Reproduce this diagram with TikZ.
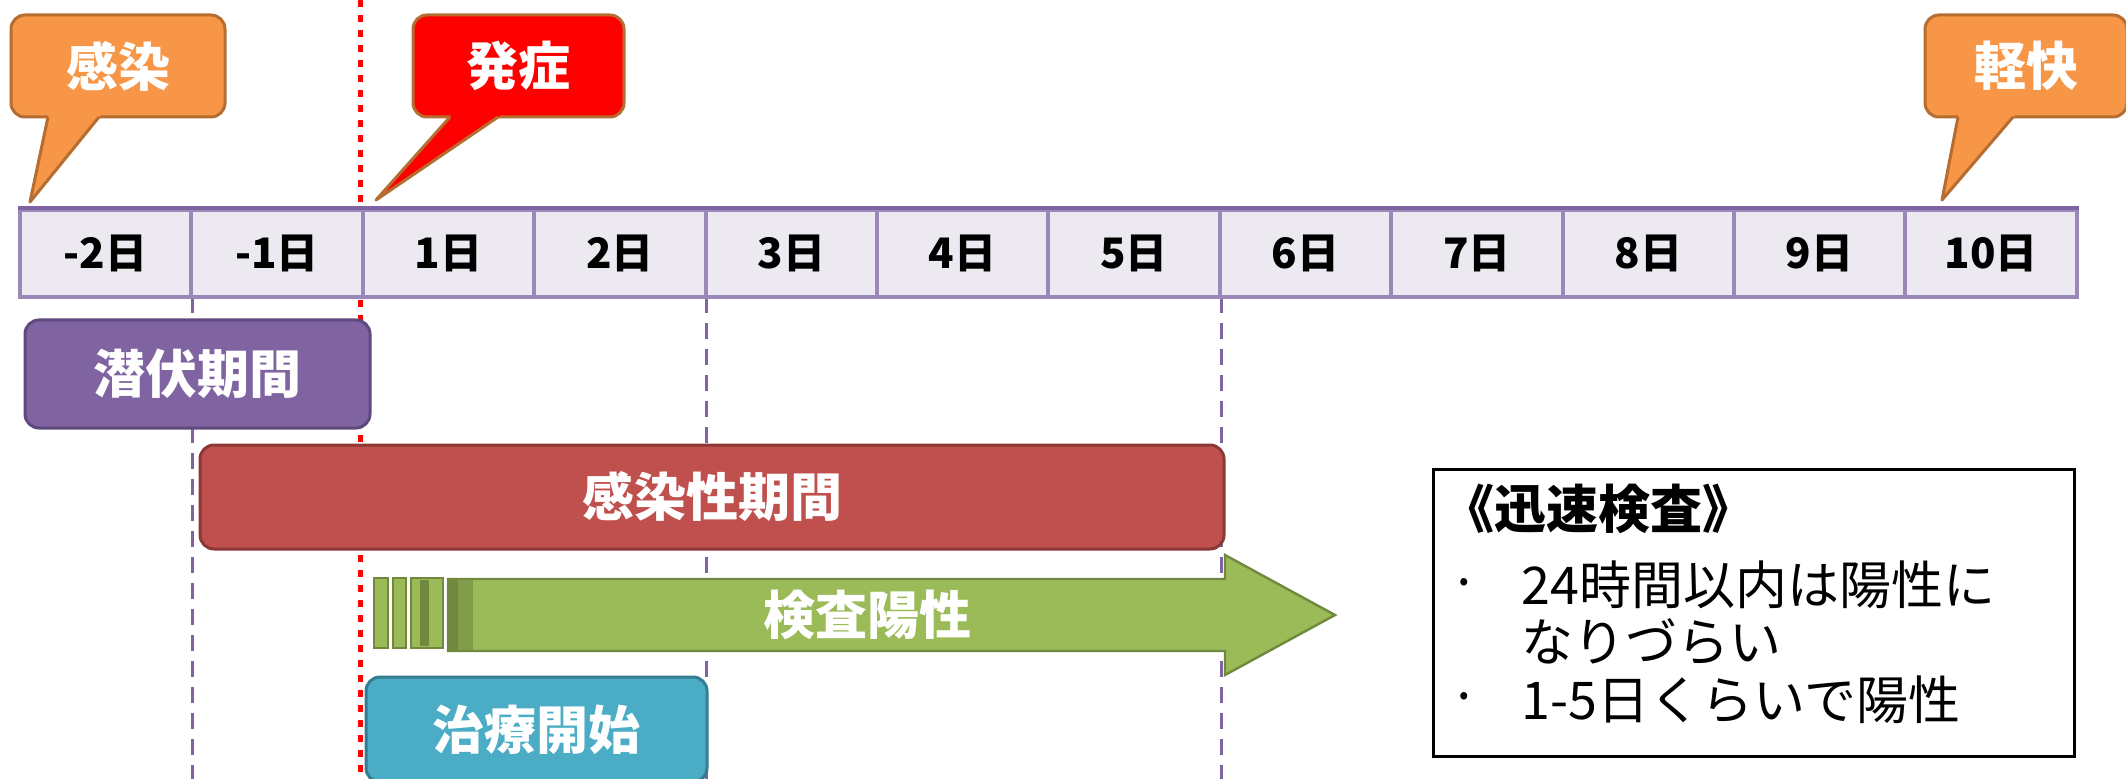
\documentclass[tikz,border=0pt]{standalone}
\usepackage{fontspec}
\setmainfont{Noto Sans CJK JP}
\usetikzlibrary{calc}
\definecolor{orangeF}{HTML}{F79646}
\definecolor{orangeD}{HTML}{B66D31}
\definecolor{redF}{HTML}{FF0000}
\definecolor{purpF}{HTML}{8064A2}
\definecolor{purpD}{HTML}{5E4A7C}
\definecolor{brickF}{HTML}{C0504D}
\definecolor{brickD}{HTML}{8C3836}
\definecolor{greenF}{HTML}{9BBB59}
\definecolor{greenD}{HTML}{71893F}
\definecolor{tealF}{HTML}{4BACC6}
\definecolor{tealD}{HTML}{357D91}
\definecolor{cellF}{HTML}{ECEAF0}
\definecolor{cellD}{HTML}{9A88B8}
\definecolor{barD}{HTML}{8064A2}
\begin{document}
\begin{tikzpicture}[x=0.25pt,y=-0.25pt,
  box/.style={rectangle, rounded corners=3.5pt, line width=0.75pt, inner sep=0pt,
    text=white, font=\fontsize{13pt}{15pt}\selectfont\bfseries},
  callout/.style={box, minimum height=25.5pt},
  cell/.style={rectangle, inner sep=0pt, minimum width=42.85pt, minimum height=21.75pt,
    fill=cellF, draw=cellD, line width=1pt, font=\fontsize{10.5pt}{12pt}\selectfont\bfseries},
  redline/.style={redF, line width=1.25pt, dash pattern=on 1.75pt off 2pt},
  guide/.style={purpF, line width=0.75pt, dash pattern=on 4pt off 2.5pt},
  tailline/.style={orangeD, line width=0.75pt, line join=round},
  stripe/.style={fill=greenF, draw=greenD, line width=0.6pt},
  bodytext/.style={anchor=west, inner sep=0pt, font=\fontsize{13pt}{15pt}\selectfont},
  dot/.style={inner sep=0pt, font=\fontsize{7pt}{8pt}\selectfont}
]
\useasboundingbox (0,0) rectangle (2126,779);
\clip (0,0) rectangle (2126,779);

% guide lines
\coordinate (r0) at (360,0); \coordinate (r1) at (360,779);
\draw[redline] (r0) -- (r1);
\foreach \gx [count=\k] in {192,706,1221}{
  \coordinate (g\k a) at (\gx,297); \coordinate (g\k b) at (\gx,779);
  \draw[guide] (g\k a) -- (g\k b);
}

% timeline bar
\foreach \lab [count=\i from 0] in {-2日,-1日,1日,2日,3日,4日,5日,6日,7日,8日,9日,10日}{
  \node[cell] (c\i) at ({20+171.4*\i+85.7},253.5) {\lab};
}
\draw[barD, line width=0.9pt] (c0.north west) -- (c11.north east);

% callouts
\node[callout, fill=orangeF, draw=orangeD, minimum width=53.5pt] (kansen) at (118,66) {感染};
\coordinate (kT) at (30,202); \coordinate (k1) at (48,117); \coordinate (k2) at (99,117);
\fill[orangeF] ($(kT)!1.08!(k1)$) -- ($(kT)!1.08!(k2)$) -- (kT) -- cycle;
\draw[tailline] (k1) -- (kT) -- (k2);

\node[callout, fill=redF, draw=orangeD, minimum width=52.75pt] (hassho) at (518.5,66) {発症};
\coordinate (hT) at (376,200); \coordinate (h1) at (450,117); \coordinate (h2) at (498,117);
\fill[redF] ($(hT)!1.08!(h1)$) -- ($(hT)!1.08!(h2)$) -- (hT) -- cycle;
\draw[tailline] (h1) -- (hT) -- (h2);

\node[callout, fill=orangeF, draw=orangeD, minimum width=50.5pt] (keikai) at (2026,66) {軽快};
\coordinate (eT) at (1942,200); \coordinate (e1) at (1958,117); \coordinate (e2) at (2013,117);
\fill[orangeF] ($(eT)!1.08!(e1)$) -- ($(eT)!1.08!(e2)$) -- (eT) -- cycle;
\draw[tailline] (e1) -- (eT) -- (e2);

% period boxes
\node[box, fill=purpF, draw=purpD, minimum width=86.25pt, minimum height=27pt] (senpuku) at (197.5,374) {潜伏期間};
\node[box, fill=brickF, draw=brickD, minimum width=256pt, minimum height=26pt] (kansensei) at (712,497) {感染性期間};
\node[box, fill=tealF, draw=tealD, minimum width=85.25pt, minimum height=26.25pt] (chiryo) at (536.5,729.5) {治療開始};

% striped arrow
\draw[stripe] (374,578) rectangle (388,648);
\draw[stripe] (393,578) rectangle (406,648);
\draw[stripe] (411,578) rectangle (443,648);
\fill[greenD] (420,580) rectangle (429,646);
\draw[fill=greenF, draw=greenD, line width=0.6pt, line join=miter]
  (448,579) -- (1225,579) -- (1225,555) -- (1335,615) -- (1225,675) -- (1225,651) -- (448,651) -- cycle;
\fill[greenD] (449,580) rectangle (458,650);
\fill[greenD!60!greenF] (458,580) rectangle (473,650);
\node[inner sep=0pt, text=white, font=\fontsize{13pt}{15pt}\selectfont\bfseries] (kensa) at (867,615) {検査陽性};

% rapid test box
\node[draw=black, line width=0.75pt, minimum width=160.25pt, minimum height=71.75pt, inner sep=0pt] (rapid) at (1753.5,612.5) {};
\node[anchor=west, inner sep=0pt, font=\fontsize{13pt}{15pt}\selectfont\bfseries] (title) at (1442,509) {《迅速検査》};
\node[dot] (b1) at (1464,584) {•};
\node[bodytext] (l1) at (1521,585) {24時間以内は陽性に};
\node[bodytext] (l2) at (1521,642) {なりづらい};
\node[dot] (b2) at (1464,698) {•};
\node[bodytext] (l3) at (1521,700) {1-5日くらいで陽性};
\end{tikzpicture}
\end{document}
